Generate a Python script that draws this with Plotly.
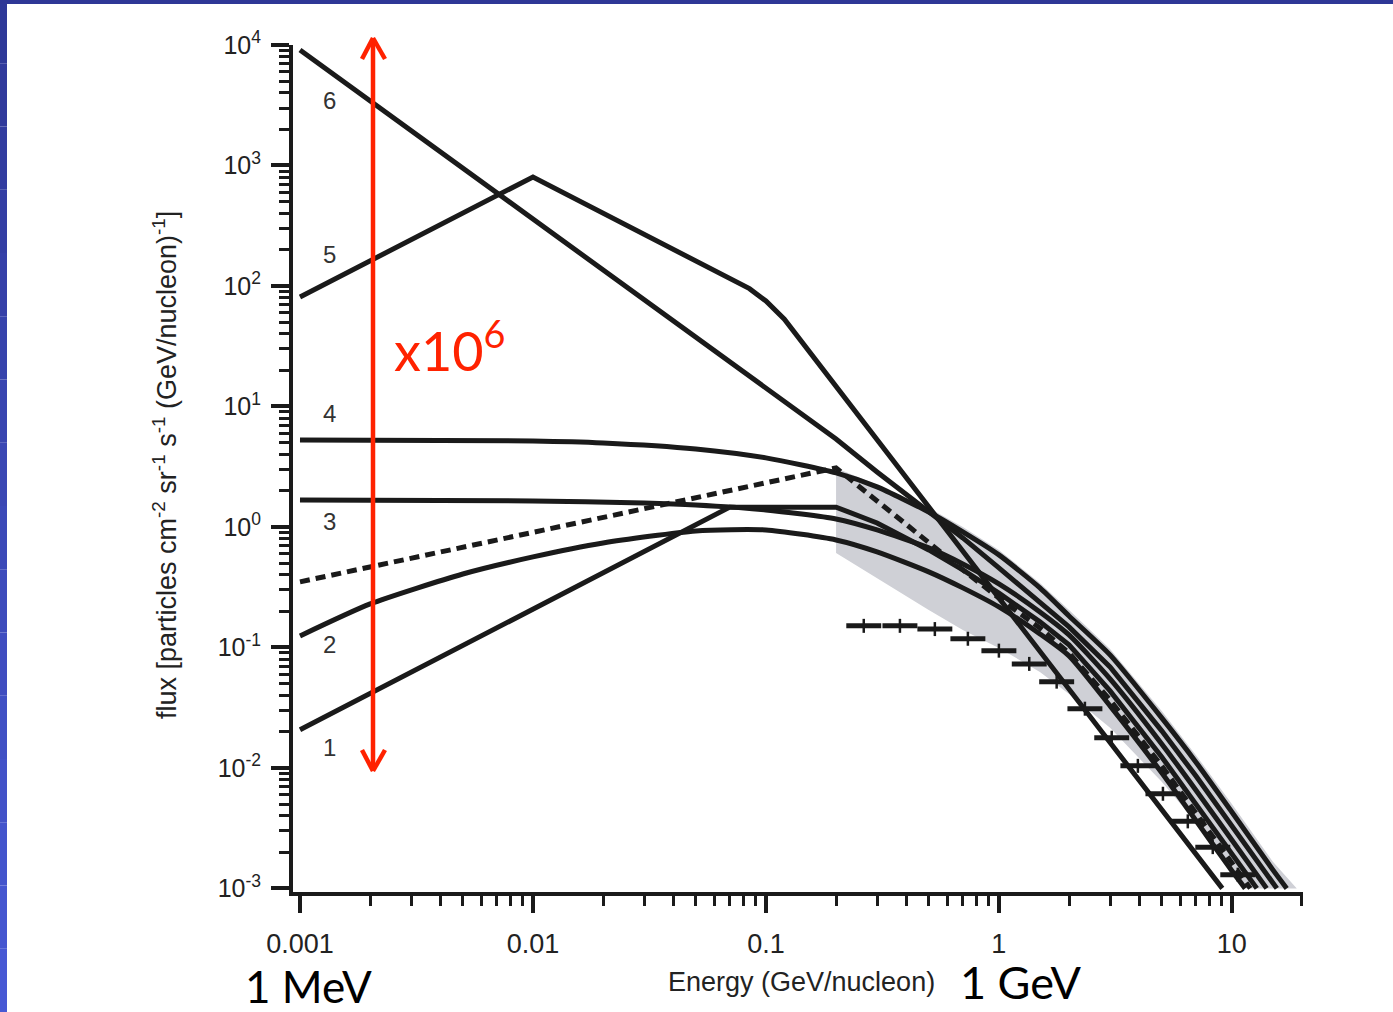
import numpy as np
import plotly.graph_objects as go

# ---------------- data (energy in GeV/nucleon, flux) ----------------
c1_E = [0.001, 0.07, 0.2, 0.3, 0.5, 0.7, 1, 1.5, 2, 3, 5, 7, 10, 12.8]
c1_F = [0.0207, 1.46, 1.46, 1.079, 0.644, 0.44, 0.283, 0.163, 0.105, 0.0436, 0.01233, 0.00502, 0.00193, 0.001]

c2_E = [0.001, 0.002, 0.005, 0.01, 0.02, 0.05, 0.1, 0.2, 0.3, 0.5, 0.7, 1, 1.5, 2, 3, 5, 7, 10, 11.4]
c2_F = [0.1245, 0.2296, 0.407, 0.564, 0.736, 0.927, 0.944, 0.78, 0.621, 0.424, 0.312, 0.217, 0.1294,
        0.085, 0.0327, 0.0091, 0.00367, 0.0014, 0.001]

c3_E = [0.001, 0.01, 0.03, 0.05, 0.1, 0.2, 0.3, 0.5, 0.7, 1, 1.5, 2, 3, 5, 7, 10, 14.1]
c3_F = [1.675, 1.643, 1.582, 1.524, 1.384, 1.164, 0.944, 0.67, 0.493, 0.337, 0.197, 0.127, 0.0548,
        0.0158, 0.00656, 0.00252, 0.001]

c4_E = [0.001, 0.01, 0.02, 0.05, 0.1, 0.2, 0.3, 0.5, 0.7, 1, 1.5, 2, 3, 5, 7, 10, 15, 17.2]
c4_F = [5.27, 5.17, 4.98, 4.44, 3.74, 2.81, 2.15, 1.33, 0.91, 0.586, 0.312, 0.1824, 0.0867, 0.026,
        0.01122, 0.00431, 0.001425, 0.001]

c5_E = [0.001, 0.01, 0.085, 0.1, 0.12, 9.1]
c5_F = [81, 803, 95, 75, 53, 0.001]

c6_E = [0.001, 0.2, 0.3, 0.5, 0.7, 1, 1.5, 2, 3, 5, 7, 10, 15, 15.6]
c6_F = [9090, 5.37, 2.86, 1.33, 0.811, 0.457, 0.239, 0.148, 0.0689, 0.0203, 0.00859, 0.0033, 0.00111, 0.001]

dot_E = [0.001, 0.2, 0.3, 0.5, 0.7, 1, 1.5, 2, 3, 5, 7, 10, 12.0]
dot_F = [0.35, 3.09, 1.643, 0.736, 0.44, 0.2576, 0.145, 0.09, 0.0366, 0.0104, 0.00424, 0.0016, 0.001]

band_up_E = [0.2, 0.3, 0.5, 0.7, 1, 1.5, 2, 3, 5, 7, 10, 15, 19]
band_up_F = [3.09, 2.23, 1.44, 1.0, 0.644, 0.343, 0.2047, 0.0972, 0.0297, 0.01282, 0.00502, 0.00166, 0.001]
band_lo_E = [0.2, 0.3, 0.5, 0.7, 1, 1.5, 2, 3, 5, 7, 10, 11.5]
band_lo_F = [0.608, 0.3776, 0.2047, 0.1397, 0.099, 0.0626, 0.0411, 0.0215, 0.00766, 0.00356, 0.00148, 0.001]

data_E = [0.263, 0.376, 0.531, 0.736, 1.0, 1.35, 1.77, 2.34, 3.05, 3.95, 5.06, 6.47, 8.28, 10.6]
data_F = [0.151, 0.151, 0.142, 0.118, 0.094, 0.073, 0.052, 0.031, 0.0178, 0.0104, 0.0061, 0.0036, 0.0022, 0.0013]

curve_labels = ["6", "5", "4", "3", "2", "1"]
label_E = [0.001345] * 6
label_F = [3430, 181, 8.66, 1.1, 0.105, 0.0149]

x_tickvals = [0.001, 0.01, 0.1, 1, 10]
x_ticktext = ["0.001", "0.01", "0.1", "1", "10"]
y_tickvals = [1e-3, 1e-2, 1e-1, 1, 10, 100, 1e3, 1e4]
y_ticktext = ["10<sup>-3</sup>", "10<sup>-2</sup>", "10<sup>-1</sup>", "10<sup>0</sup>",
              "10<sup>1</sup>", "10<sup>2</sup>", "10<sup>3</sup>", "10<sup>4</sup>"]

# ---------------- styling ----------------
INK = "#1a1a1a"
LW = 5
FONT = "Liberation Sans, Arial, sans-serif"
SLIDE_FONT = "Lato, sans-serif"
RED = "#ff2200"
bin_halfwidth_dex = 0.075

fig = go.Figure()

# grey band
fig.add_trace(go.Scatter(
    x=band_up_E + band_lo_E[::-1], y=band_up_F + band_lo_F[::-1],
    mode="lines", fill="toself", fillcolor="#cfd0d6", line=dict(width=0),
    hoverinfo="skip", showlegend=False))

for E, F, shape in [(c5_E, c5_F, "linear"), (c6_E, c6_F, "linear"), (c4_E, c4_F, "spline"),
                    (c3_E, c3_F, "spline"), (c2_E, c2_F, "spline"), (c1_E, c1_F, "linear")]:
    line = dict(color=INK, width=LW, shape=shape)
    if shape == "spline":
        line["smoothing"] = 0.6
    fig.add_trace(go.Scatter(x=E, y=F, mode="lines", line=line, showlegend=False))

fig.add_trace(go.Scatter(x=dot_E, y=dot_F, mode="lines",
                         line=dict(color=INK, width=LW, dash="10px,6px"), showlegend=False))

err_plus = [e * (10 ** bin_halfwidth_dex - 1) for e in data_E]
err_minus = [e * (1 - 10 ** (-bin_halfwidth_dex)) for e in data_E]
fig.add_trace(go.Scatter(
    x=data_E, y=data_F, mode="markers",
    marker=dict(symbol="line-ns", size=10, color=INK, line=dict(width=2.5, color=INK)),
    error_x=dict(type="data", array=err_plus, arrayminus=err_minus, symmetric=False,
                 thickness=5, width=0, color=INK),
    showlegend=False))

annotations = []
for t, e, f in zip(curve_labels, label_E, label_F):
    annotations.append(dict(x=np.log10(e), y=np.log10(f), xref="x", yref="y", text=t,
                            xanchor="center", yanchor="middle",
                            showarrow=False, font=dict(family=FONT, size=24, color="#333333")))

# plot area in pixels: x 293..1303, y 45..892
def px(xp):
    return (xp - 293) / 1010.0

def py(yp):
    return (892 - yp) / 847.0

def note(x, y, text, size, color, family=FONT, **kw):
    d = dict(x=px(x), y=py(y), xref="paper", yref="paper", text=text, showarrow=False,
             xanchor="center", yanchor="middle",
             font=dict(family=family, size=size, color=color))
    d.update(kw)
    return d

annotations += [
    note(801, 982, "Energy (GeV/nucleon)", 27, "#222222"),
    note(165, 465, "flux [particles cm<sup>-2</sup> sr<sup>-1</sup> s<sup>-1</sup> (GeV/nucleon)<sup>-1</sup>]",
         27, "#222222", textangle=-90),
    note(392, 347, "x10<sup>6</sup>", 54, RED, family=SLIDE_FONT, xanchor="left"),
    note(308, 986, "1 MeV", 44, "black", family=SLIDE_FONT),
    note(1021, 982, "1 GeV", 45, "black", family=SLIDE_FONT),
]

shapes = []
# red double arrow
ax_x = px(373)
for (x0, y0, x1, y1) in [
    (ax_x, py(39), ax_x, py(770)),
    (px(362), py(59), ax_x, py(38)), (px(385), py(59), ax_x, py(38)),
    (px(362), py(750), ax_x, py(771)), (px(385), py(750), ax_x, py(771)),
]:
    shapes.append(dict(type="line", xref="paper", yref="paper", x0=x0, y0=y0, x1=x1, y1=y1,
                       line=dict(color=RED, width=4.5), layer="above"))

# slide border (blue frame)
top_c = np.array([46, 55, 150])
bot_c = np.array([72, 90, 214])
nseg = 16
for i in range(nseg):
    y_top = 1012 * i / nseg
    y_bot = 1012 * (i + 1) / nseg
    c = top_c + (bot_c - top_c) * (i + 0.5) / nseg
    shapes.append(dict(type="rect", xref="paper", yref="paper", x0=px(0), x1=px(7),
                       y0=py(y_bot), y1=py(y_top), line=dict(width=0),
                       fillcolor="rgb(%d,%d,%d)" % tuple(c.astype(int))))
shapes.append(dict(type="rect", xref="paper", yref="paper", x0=px(0), x1=px(1393),
                   y0=py(4), y1=py(0), line=dict(width=0), fillcolor="rgb(46,55,150)"))

x_minor = [k * 10.0 ** p for p in range(-3, 2) for k in range(2, 10)]
y_minor = [k * 10.0 ** p for p in range(-3, 4) for k in range(2, 10)]

fig.update_layout(
    width=1393, height=1012,
    margin=dict(l=293, r=90, t=45, b=120),
    paper_bgcolor="white", plot_bgcolor="white",
    showlegend=False,
    annotations=annotations, shapes=shapes,
    xaxis=dict(type="log", range=[-3.03, np.log10(20.2)], showgrid=False, zeroline=False,
               showline=True, linewidth=4, linecolor=INK,
               tickmode="array", tickvals=x_tickvals, ticktext=x_ticktext,
               ticks="outside", ticklen=17, tickwidth=4, tickcolor=INK,
               ticklabelstandoff=8,
               tickfont=dict(family=FONT, size=27, color="#222222"),
               minor=dict(tickmode="array", tickvals=x_minor, ticks="outside", ticklen=10,
                          tickwidth=3, tickcolor=INK, showgrid=False)),
    yaxis=dict(type="log", range=[-3.03, 4.0], showgrid=False, zeroline=False,
               showline=True, linewidth=4, linecolor=INK,
               tickmode="array", tickvals=y_tickvals, ticktext=y_ticktext,
               ticks="outside", ticklen=18, tickwidth=4, tickcolor=INK,
               ticklabelstandoff=5,
               tickfont=dict(family=FONT, size=25, color="#222222"),
               minor=dict(tickmode="array", tickvals=y_minor, ticks="outside", ticklen=10,
                          tickwidth=3, tickcolor=INK, showgrid=False)),
)

fig.write_html("out.html", config={"displayModeBar": False},
               post_script="document.body.style.margin='0px';document.body.style.overflow='hidden';")
